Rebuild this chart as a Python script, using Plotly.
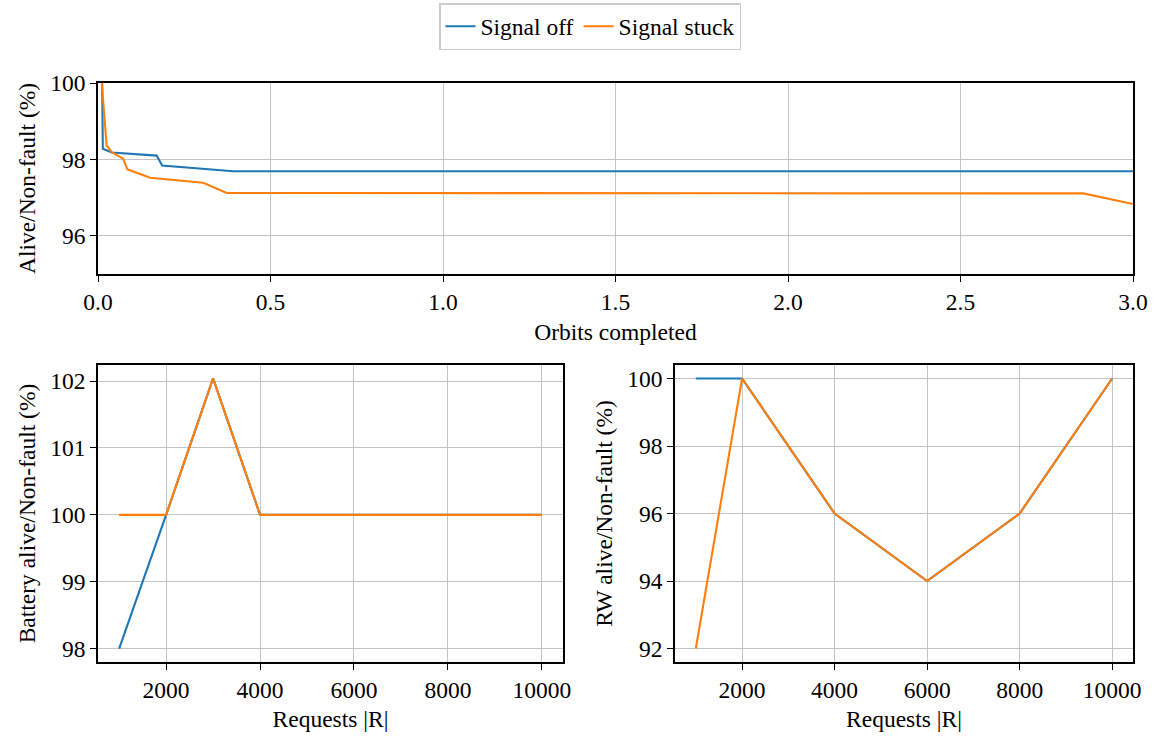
import plotly.graph_objects as go

# Top panel: orbits completed vs alive/non-fault
off_x = [0.012, 0.014, 0.04, 0.17, 0.186, 0.392, 3.0]
off_y = [100.0, 98.28, 98.18, 98.10, 97.84, 97.69, 97.69]
stuck_x = [0.011, 0.025, 0.04, 0.073, 0.085, 0.151, 0.305, 0.373, 2.856, 3.0]
stuck_y = [100.0, 98.37, 98.19, 98.02, 97.74, 97.52, 97.39, 97.12, 97.11, 96.83]

# Bottom-left: battery
req_bat = [1000, 2000, 3000, 4000, 6000, 8000, 10000]
bat_off = [98, 100, 102.04, 100, 100, 100, 100]
bat_stuck = [100, 100, 102.04, 100, 100, 100, 100]

# Bottom-right: reaction wheel
req_rw = [1000, 2000, 4000, 6000, 8000, 10000]
rw_off = [100, 100, 96, 94, 96, 100]
rw_stuck = [92, 100, 96, 94, 96, 100]

BLUE = "#1f77b4"
ORANGE = "#ff7f0e"
FONT = "Liberation Serif, Times New Roman, DejaVu Serif, serif"
FS = 23.5

fig = go.Figure()
lw = 2.1
fig.add_trace(go.Scatter(x=off_x, y=off_y, mode="lines", line=dict(color=BLUE, width=lw),
                         name="Signal off", xaxis="x", yaxis="y"))
fig.add_trace(go.Scatter(x=stuck_x, y=stuck_y, mode="lines", line=dict(color=ORANGE, width=lw),
                         name="Signal stuck", xaxis="x", yaxis="y"))
fig.add_trace(go.Scatter(x=req_bat, y=bat_off, mode="lines", line=dict(color=BLUE, width=lw),
                         showlegend=False, xaxis="x2", yaxis="y2"))
fig.add_trace(go.Scatter(x=req_bat, y=bat_stuck, mode="lines", line=dict(color=ORANGE, width=lw),
                         showlegend=False, xaxis="x2", yaxis="y2"))
fig.add_trace(go.Scatter(x=req_rw, y=rw_off, mode="lines", line=dict(color=BLUE, width=lw),
                         showlegend=False, xaxis="x3", yaxis="y3"))
fig.add_trace(go.Scatter(x=req_rw, y=rw_stuck, mode="lines", line=dict(color=ORANGE, width=lw),
                         showlegend=False, xaxis="x3", yaxis="y3"))

W, H = 1156, 736
def px_x(a, b):
    return [a / W, b / W]
def px_y(top, bottom):
    return [1 - bottom / H, 1 - top / H]

common = dict(showline=True, linecolor="black", linewidth=1.6, mirror=True,
              ticks="outside", ticklen=6, tickwidth=1.4, tickcolor="black",
              showgrid=True, gridcolor="#c4c4c4", gridwidth=1, zeroline=False,
              automargin=False,
              tickfont=dict(family=FONT, size=FS, color="black"))
tfont = dict(family=FONT, size=FS, color="black")

fig.update_layout(
    width=W, height=H,
    margin=dict(l=0, r=0, t=0, b=0),
    paper_bgcolor="white", plot_bgcolor="white",
    font=dict(family=FONT, size=FS, color="black"),
    showlegend=True,
    legend=dict(orientation="h", x=590 / W, y=1 - 3 / H, xanchor="center", yanchor="top",
                bordercolor="#cccccc", borderwidth=1.5, bgcolor="white",
                font=dict(family=FONT, size=FS), itemwidth=30, tracegroupgap=0),
    xaxis=dict(domain=px_x(98, 1133), anchor="y", range=[0, 3.0],
               tickvals=[0, 0.5, 1.0, 1.5, 2.0, 2.5, 3.0], tickformat=".1f",
               title=dict(text="Orbits completed", standoff=10, font=tfont),
               **common),
    yaxis=dict(domain=px_y(83, 274), anchor="x", range=[95, 100],
               tickvals=[96, 98, 100],
               title=dict(text="Alive/Non-fault (%)", standoff=8, font=tfont),
               **common),
    xaxis2=dict(domain=px_x(98, 563), anchor="y2", range=[550, 10450],
                tickvals=[2000, 4000, 6000, 8000, 10000], tickformat="d",
                title=dict(text="Requests |R|", standoff=9, font=tfont),
                **common),
    yaxis2=dict(domain=px_y(365, 662), anchor="x2", range=[97.8, 102.24],
                tickvals=[98, 99, 100, 101, 102],
                title=dict(text="Battery alive/Non-fault (%)", standoff=8, font=tfont),
                **common),
    xaxis3=dict(domain=px_x(675, 1133), anchor="y3", range=[550, 10450],
                tickvals=[2000, 4000, 6000, 8000, 10000], tickformat="d",
                title=dict(text="Requests |R|", standoff=9, font=tfont),
                **common),
    yaxis3=dict(domain=px_y(365, 662), anchor="x3", range=[91.6, 100.4],
                tickvals=[92, 94, 96, 98, 100],
                title=dict(text="RW alive/Non-fault (%)", standoff=8, font=tfont),
                **common),
)

fig.write_html("out.html")
